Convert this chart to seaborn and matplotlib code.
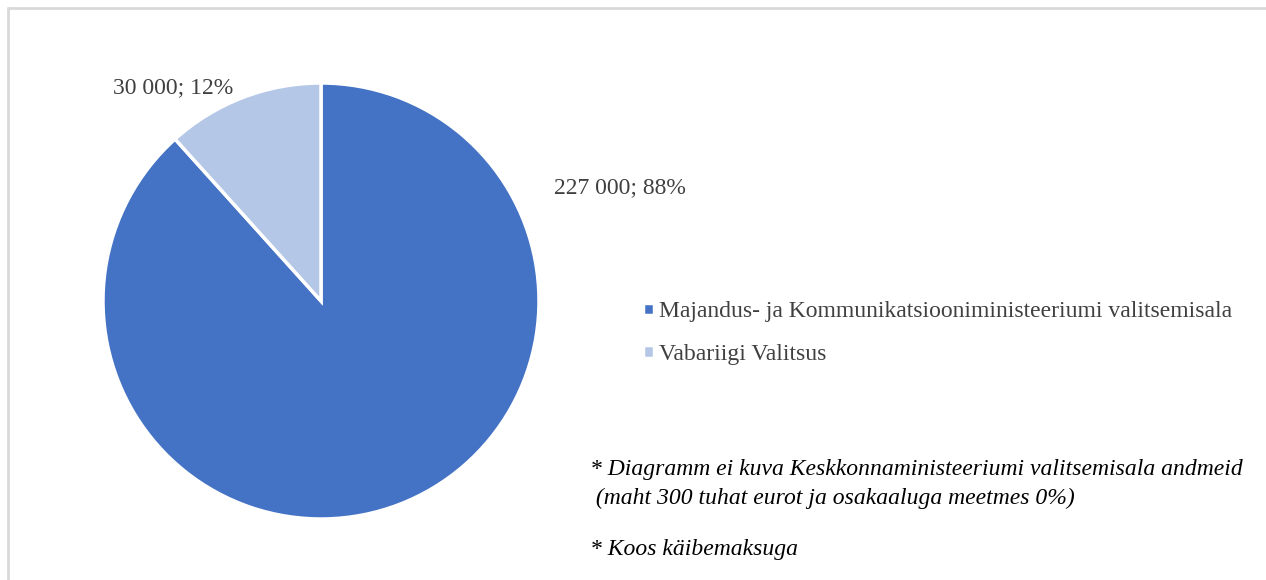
import matplotlib
matplotlib.use("Agg")
import matplotlib.pyplot as plt
import seaborn as sns

categories = ["Majandus- ja Kommunikatsiooniministeeriumi valitsemisala", "Vabariigi Valitsus"]
values = [227000, 30000]
value_labels = ["227 000; 88%", "30 000; 12%"]
colors = ["#4472C4", "#B4C7E7"]
notes = ["* Diagramm ei kuva Keskkonnaministeeriumi valitsemisala andmeid\n (maht 300 tuhat eurot ja osakaaluga meetmes 0%)",
         "* Koos käibemaksuga"]

sns.set_theme(style="white")
plt.rcParams["font.family"] = ["Liberation Serif", "DejaVu Serif"]
text_col = "#404040"
fs = 17

fig = plt.figure(figsize=(12.66, 5.8), dpi=100)
ax = fig.add_axes([103 / 1266, 61 / 580, 436 / 1266, 436 / 580])

wedges, _ = ax.pie(values, colors=colors, startangle=90, counterclock=False,
                   wedgeprops=dict(edgecolor="white", linewidth=2.5))
ax.set_aspect("equal")
ax.set_xlim(-1, 1)
ax.set_ylim(-1, 1)

# data labels (Excel style placement)
ax.text(1.37, 0.52, value_labels[0], ha="center", va="center", fontsize=fs, color=text_col)
ax.text(-0.68, 0.98, value_labels[1], ha="center", va="center", fontsize=fs, color=text_col)

fig.legend(wedges, categories, loc="center left", bbox_to_anchor=(622 / 1266, 1 - 333 / 580),
           frameon=False, fontsize=fs, labelcolor=text_col, handlelength=0.45, handleheight=0.45,
           handletextpad=0.2, labelspacing=0.9)

fig.text(590 / 1266, 1 - 484 / 580, notes[0], ha="left", va="center", fontsize=fs,
         style="italic", color="black", linespacing=1.5)
fig.text(590 / 1266, 1 - 549 / 580, notes[1], ha="left", va="center", fontsize=fs,
         style="italic", color="black")

# outer frame (only top and left visible)
fig.add_artist(plt.Line2D([8 / 1266, 1], [1 - 8 / 580, 1 - 8 / 580], color="#d9d9d9", lw=2,
                          transform=fig.transFigure))
fig.add_artist(plt.Line2D([8 / 1266, 8 / 1266], [0, 1 - 8 / 580], color="#d9d9d9", lw=2,
                          transform=fig.transFigure))

fig.savefig("out.png", dpi=100, facecolor="white")
plt.close(fig)
